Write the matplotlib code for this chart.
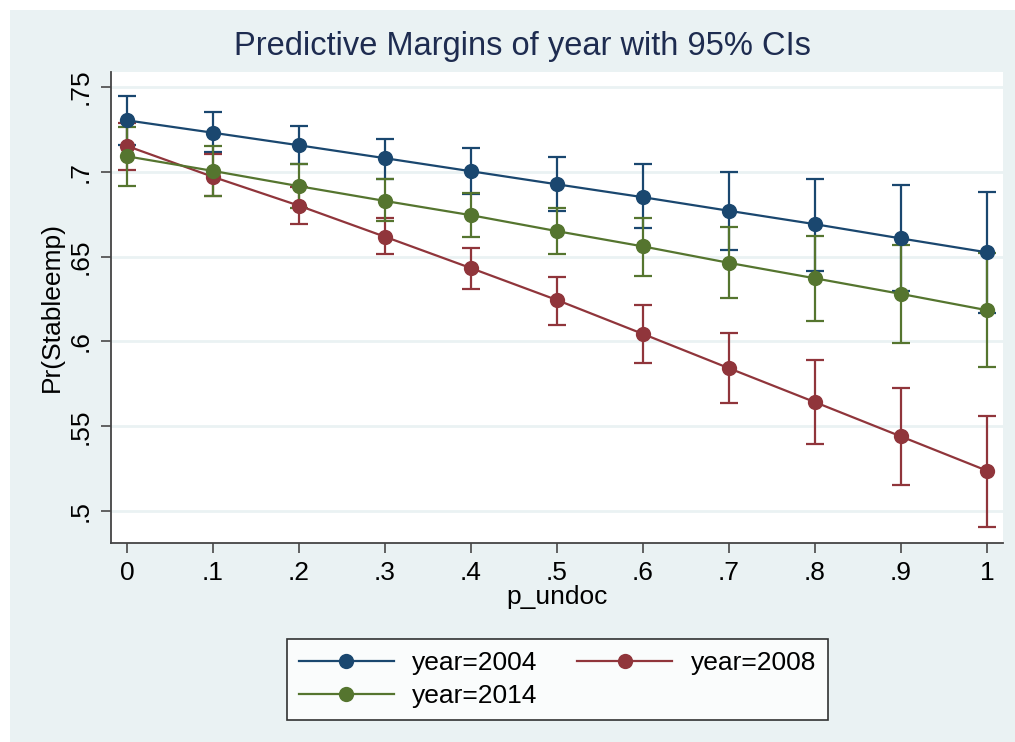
import matplotlib
matplotlib.use('agg')
import matplotlib.pyplot as plt
from matplotlib.patches import Rectangle

plt.rcParams['font.family'] = ['Liberation Sans', 'DejaVu Sans']

# margins at each p_undoc value
p_undoc = [0, .1, .2, .3, .4, .5, .6, .7, .8, .9, 1]

y2004 = [.7303, .7230, .7156, .7080, .7003, .6926, .6850, .6770, .6691, .6607, .6525]
lo2004 = [.7160, .7115, .7045, .6960, .6868, .6768, .6668, .6538, .6416, .6300, .6167]
hi2004 = [.7444, .7352, .7270, .7195, .7138, .7085, .7044, .6999, .6958, .6920, .6881]

y2008 = [.7152, .6970, .6800, .6617, .6432, .6244, .6044, .5842, .5642, .5440, .5238]
lo2008 = [.7009, .6856, .6691, .6515, .6309, .6097, .5874, .5636, .5397, .5156, .4909]
hi2008 = [.7290, .7103, .6909, .6726, .6550, .6380, .6215, .6052, .5889, .5724, .5562]

y2014 = [.7091, .7005, .6915, .6828, .6744, .6650, .6560, .6463, .6372, .6280, .6184]
lo2014 = [.6917, .6856, .6785, .6711, .6615, .6515, .6388, .6258, .6122, .5990, .5848]
hi2014 = [.7264, .7150, .7044, .6956, .6873, .6785, .6730, .6675, .6622, .6568, .6520]

series = [
    ("year=2004", y2004, lo2004, hi2004, "#1A476F"),
    ("year=2008", y2008, lo2008, hi2008, "#90353B"),
    ("year=2014", y2014, lo2014, hi2014, "#55752F"),
]

bg = "#EAF2F3"
fs = 19
fig = plt.figure(figsize=(10.15, 7.42), dpi=100)
fig.patch.set_facecolor(bg)
# white margin at top/left, like the cropped page
fig.patches.append(Rectangle((0, 1 - 10 / 742), 1, 10 / 742, transform=fig.transFigure,
                             facecolor="white", edgecolor="none", zorder=0))
fig.patches.append(Rectangle((0, 0), 10 / 1015, 1, transform=fig.transFigure,
                             facecolor="white", edgecolor="none", zorder=0))

ax = fig.add_axes([111 / 1015, 1 - 543 / 742, (1003 - 111) / 1015, (543 - 72) / 742])
ax.set_facecolor("white")

# CIs first, then the lines on top
for lab, y, lo, hi, c in series:
    err = [[v - l for v, l in zip(y, lo)], [h - v for v, h in zip(y, hi)]]
    ax.errorbar(p_undoc, y, yerr=err, fmt='none', ecolor=c, elinewidth=1.6,
                capsize=6.5, capthick=1.6, zorder=2)
handles = {}
for lab, y, lo, hi, c in series:
    h, = ax.plot(p_undoc, y, color=c, lw=1.6, marker='o', markersize=11,
                 markeredgewidth=0, label=lab, zorder=3)
    handles[lab] = h

ax.set_xlim(-0.0186, 1.0186)
ax.set_ylim(0.4812, 0.7588)
ax.set_xticks(p_undoc)
ax.set_xticklabels(["0", ".1", ".2", ".3", ".4", ".5", ".6", ".7", ".8", ".9", "1"])
ax.set_yticks([.5, .55, .6, .65, .7, .75])
ax.set_yticklabels([".5", ".55", ".6", ".65", ".7", ".75"], rotation=90, va='center')
ax.tick_params(axis='both', labelsize=fs, length=7, width=1.3, color="#555555", pad=6)
ax.yaxis.grid(True, color=bg, lw=2)
ax.set_axisbelow(True)
for s in ["top", "right"]:
    ax.spines[s].set_visible(False)
for s in ["left", "bottom"]:
    ax.spines[s].set_color("#444444")
    ax.spines[s].set_linewidth(1.3)

ax.set_xlabel("p_undoc", fontsize=fs, labelpad=0)
ax.set_ylabel("Pr(Stableemp)", fontsize=fs, labelpad=4)
fig.text(522 / 1015, 1 - 47 / 742, "Predictive Margins of year with 95% CIs",
         fontsize=23.5, color="#1E2C50", ha='center', va='center')

order = ["year=2004", "year=2014", "year=2008"]
leg = fig.legend([handles[k] for k in order], order, ncol=2, loc='center',
                 bbox_to_anchor=(557.5 / 1015, 1 - 679.5 / 742), fontsize=fs,
                 frameon=True, fancybox=False, edgecolor="black", facecolor="white",
                 handlelength=3.6, columnspacing=1.5, labelspacing=0.35,
                 borderpad=0.45, handletextpad=0.7)
leg.get_frame().set_linewidth(1.2)

plt.savefig("out.png", dpi=100, facecolor=fig.get_facecolor())
